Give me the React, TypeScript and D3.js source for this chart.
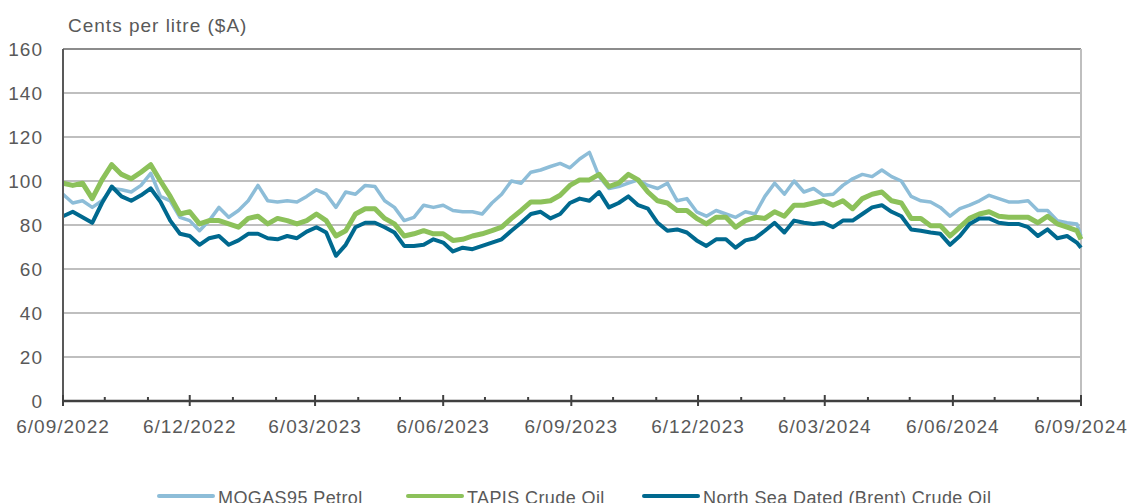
import { useEffect, useRef } from 'react'
import * as d3 from 'd3'

// weekly readings starting 6/09/2022, last value is 6/09/2024
const mogas = [
  94, 90, 91, 88, 91, 96.6, 96, 95, 98, 103.5, 93, 91, 83.5, 82, 77.4, 82, 88, 83.5, 86.6, 91, 98, 91, 90.5, 91, 90.5, 93, 96,
  94, 88, 95, 94, 98, 97.5, 91, 88, 82, 83.5, 89, 88, 89, 86.6, 86, 86, 85, 90, 94, 100, 99, 104, 105, 106.6, 108, 106,
  110, 113, 102, 96.6, 97.5, 99, 100.5, 98, 96.6, 99, 91, 92, 86, 84, 86.6, 85, 83.5, 86, 85, 93, 99, 94, 100, 95, 96.6, 93.5,
  94, 98, 101, 103, 102, 105, 102, 100, 93, 91, 90.5, 88, 84, 87.4, 89, 91, 93.5, 92, 90.5, 90.5, 91, 86.6, 86.6, 82, 81, 80.5,
  75,
]
const tapis = [
  99, 98, 99, 92, 100.5, 107.4, 103, 101, 104, 107.4, 100, 93, 85, 86, 80.5, 82, 82, 80.5, 79, 83, 84, 80.5, 83, 82, 80.5, 82, 85,
  82, 75, 77.4, 85, 87.4, 87.4, 83, 80.5, 75, 76, 77.4, 76, 76, 73, 73.5, 75, 76, 77.4, 79, 83, 86.6, 90.5, 90.5, 91, 93.5, 98,
  100.5, 100.5, 103, 97.5, 99, 103, 100.5, 95, 91, 90, 86.6, 86.6, 83, 80.5, 83.5, 83.5, 79, 82, 83.5, 83, 86, 84, 89, 89, 90, 91,
  89, 91, 87.4, 92, 94, 95, 91, 90, 83, 83, 79.7, 79.7, 75, 79, 83, 85, 86, 84, 83.5, 83.5, 83.5, 81, 84, 80.5, 79, 77.4,
  73.5,
]
const brent = [
  84, 86, 83.5, 81, 90, 97.5, 93, 91, 93.5, 96.6, 90.5, 82, 76, 75, 71, 74, 75, 71, 73, 76, 76, 74, 73.5, 75, 74, 77, 79,
  76.6, 66, 71, 79, 81, 81, 79, 76.6, 70.5, 70.5, 71, 73.5, 72, 68, 69.7, 69, 70.5, 72, 73.5, 77.4, 81, 85, 86, 83, 85, 90,
  92, 91, 95, 88, 90, 93, 89, 87.4, 81, 77.4, 78, 76.6, 73, 70.5, 73.5, 73.5, 69.7, 73, 74, 77.4, 81, 76.6, 82, 81, 80.5, 81,
  79, 82, 82, 85, 88, 89, 86, 84, 78, 77.4, 76.6, 76, 71, 75, 80.5, 83, 83, 81, 80.5, 80.5, 79, 75, 78, 74, 75, 72,
  69.7,
]
const yTicks = [0, 20, 40, 60, 80, 100, 120, 140, 160]
const xTickLabels = [
  '6/09/2022', '6/12/2022', '6/03/2023', '6/06/2023', '6/09/2023',
  '6/12/2023', '6/03/2024', '6/06/2024', '6/09/2024',
]
const seriesNames = ['MOGAS95 Petrol', 'TAPIS Crude Oil', 'North Sea Dated (Brent) Crude Oil']

const parse = d3.timeParse('%d/%m/%Y')
const start = parse('6/09/2022') as Date
const end = parse('6/09/2024') as Date
const dates = mogas.map((_, i) => (i < mogas.length - 1 ? d3.timeDay.offset(start, i * 7) : end))

const App = () => {
  const svgRef = useRef<SVGSVGElement>(null)

  useEffect(() => {
    if (!svgRef.current) return
    const svg = d3.select(svgRef.current)
    svg.selectAll('*').remove()

    const left = 63
    const right = 1081
    const top = 49
    const bottom = 401
    const font = '"Liberation Sans", Arial, sans-serif'
    const textColor = '#595959'

    const x = d3.scaleTime().domain([start, end]).range([left, right])
    const y = d3.scaleLinear().domain([0, 160]).range([bottom, top])

    // gridlines
    svg.append('g')
      .selectAll('line')
      .data(yTicks.filter((d) => d > 0 && d < 160))
      .enter()
      .append('line')
      .attr('x1', left)
      .attr('x2', right)
      .attr('y1', (d) => y(d))
      .attr('y2', (d) => y(d))
      .attr('stroke', '#bfbfbf')
      .attr('stroke-width', 2)

    // frame top + right
    svg.append('line')
      .attr('x1', left).attr('x2', right)
      .attr('y1', y(160)).attr('y2', y(160))
      .attr('stroke', '#8c8c8c').attr('stroke-width', 2)
    svg.append('line')
      .attr('x1', right).attr('x2', right)
      .attr('y1', y(160)).attr('y2', y(0))
      .attr('stroke', '#bfbfbf').attr('stroke-width', 2)

    // y labels
    svg.append('g')
      .selectAll('text')
      .data(yTicks)
      .enter()
      .append('text')
      .attr('x', 43)
      .attr('y', (d) => y(d) + 7)
      .attr('text-anchor', 'end')
      .style('font-family', font)
      .style('font-size', '19px')
      .style('letter-spacing', '1px')
      .style('fill', textColor)
      .text((d) => d)

    svg.append('text')
      .attr('x', 68)
      .attr('y', 32)
      .style('font-family', font)
      .style('font-size', '19px')
      .style('letter-spacing', '1px')
      .style('fill', textColor)
      .text('Cents per litre ($A)')

    // series
    const line = d3.line<number>()
      .x((_, i) => x(dates[i]))
      .y((d) => y(d))
      .curve(d3.curveLinear)

    const series = [
      { name: seriesNames[0], values: mogas, color: '#8dbdd8', width: 3.5 },
      { name: seriesNames[1], values: tapis, color: '#8cc15a', width: 5 },
      { name: seriesNames[2], values: brent, color: '#00698f', width: 4 },
    ]

    series.forEach((s) => {
      svg.append('path')
        .datum(s.values)
        .attr('d', line)
        .attr('fill', 'none')
        .attr('stroke', s.color)
        .attr('stroke-width', s.width)
        .attr('stroke-linejoin', 'round')
    })

    // axes
    svg.append('line')
      .attr('x1', left).attr('x2', left)
      .attr('y1', y(160)).attr('y2', y(0))
      .attr('stroke', '#595959').attr('stroke-width', 2)

    const majors = xTickLabels.map((t) => parse(t) as Date)
    const minors = d3.timeMonth.range(start, end)
      .map((m) => d3.timeDay.offset(m, 5))
      .filter((d) => !majors.some((mj) => +mj === +d))

    svg.append('g')
      .selectAll('line')
      .data(minors)
      .enter()
      .append('line')
      .attr('x1', (d) => x(d)).attr('x2', (d) => x(d))
      .attr('y1', bottom - 4).attr('y2', bottom)
      .attr('stroke', '#404040').attr('stroke-width', 2)

    svg.append('g')
      .selectAll('line')
      .data(majors)
      .enter()
      .append('line')
      .attr('x1', (d) => x(d)).attr('x2', (d) => x(d))
      .attr('y1', bottom - 6).attr('y2', bottom + 5)
      .attr('stroke', '#404040').attr('stroke-width', 2)

    svg.append('line')
      .attr('x1', left).attr('x2', right)
      .attr('y1', bottom).attr('y2', bottom)
      .attr('stroke', '#404040').attr('stroke-width', 2.5)

    svg.append('g')
      .selectAll('text')
      .data(majors)
      .enter()
      .append('text')
      .attr('x', (d) => x(d))
      .attr('y', 433)
      .attr('text-anchor', 'middle')
      .style('font-family', font)
      .style('font-size', '19px')
      .style('letter-spacing', '1px')
      .style('fill', textColor)
      .text((_, i) => xTickLabels[i])

    // legend
    const legendX = [159, 408, 644]
    series.forEach((s, i) => {
      const g = svg.append('g').attr('transform', `translate(${legendX[i]},496)`)
      g.append('line')
        .attr('x1', 0).attr('x2', 54)
        .attr('stroke', s.color)
        .attr('stroke-width', 4)
        .attr('stroke-linecap', 'round')
      g.append('text')
        .attr('x', 59)
        .attr('y', 8)
        .style('font-family', font)
        .style('font-size', '18px')
        .style('letter-spacing', '0.4px')
        .style('fill', textColor)
        .text(s.name)
    })
  }, [])

  return (
    <svg
      ref={svgRef}
      width={1131}
      height={503}
      style={{ position: 'absolute', left: 0, top: 0, background: '#fff' }}
    />
  )
}

export default App
